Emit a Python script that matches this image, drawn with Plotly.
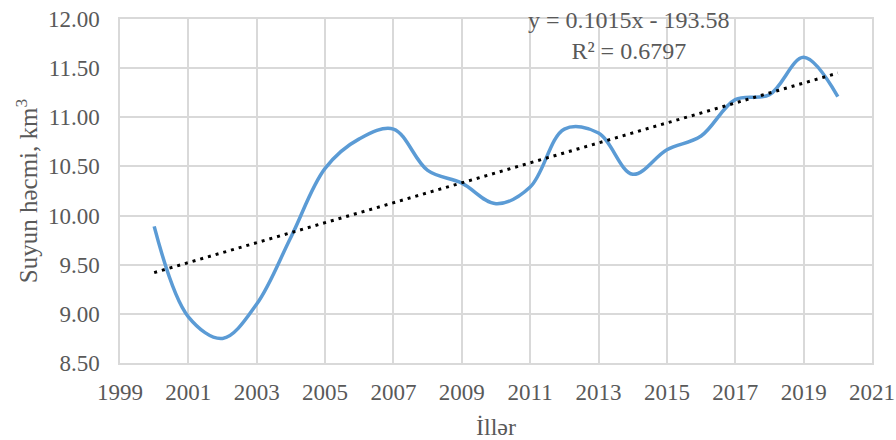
import plotly.graph_objects as go

years = list(range(2000, 2021))
volume = [9.89, 8.97, 8.75, 9.10, 9.78, 10.48, 10.78, 10.88, 10.46, 10.33,
          10.12, 10.29, 10.88, 10.84, 10.42, 10.67, 10.81, 11.18, 11.23, 11.61, 11.21]
trend_slope = 0.1015
trend_intercept = -193.58
r_squared = 0.6797

trend_x = [years[0], years[-1]]
trend_y = [trend_slope * x + trend_intercept for x in trend_x]

font_family = "Liberation Serif, Times New Roman, serif"
grey = "#595959"
grid = "#d9d9d9"

fig = go.Figure()
fig.add_trace(go.Scatter(x=years, y=volume, mode="lines",
                         line=dict(color="#5B9BD5", width=3.5, shape="spline", smoothing=1),
                         showlegend=False, hoverinfo="skip"))
fig.add_trace(go.Scatter(x=trend_x, y=trend_y, mode="lines",
                         line=dict(color="black", width=3, dash="3px,5px"),
                         showlegend=False, hoverinfo="skip"))

fig.add_annotation(x=0.677, y=0.9506, xref="paper", yref="paper", xanchor="center", yanchor="middle",
                   text=f"y = {trend_slope}x - {abs(trend_intercept)}<br>R² = {r_squared}",
                   showarrow=False, font=dict(family=font_family, size=24, color=grey),
                   align="center")

fig.update_layout(
    width=896, height=440,
    margin=dict(l=120, r=24, t=19, b=77, autoexpand=False),
    paper_bgcolor="white", plot_bgcolor="white",
    font=dict(family=font_family, size=23, color=grey),
    xaxis=dict(range=[1999, 2021], tick0=1999, dtick=2, showgrid=True, gridcolor=grid, gridwidth=1.5,
               showline=True, linecolor=grid, linewidth=1.5, mirror=True, ticks="", zeroline=False,
               automargin=False, ticklabelstandoff=8, tickfont=dict(size=23),
               title=dict(text="İllər", font=dict(family=font_family, size=24, color=grey), standoff=25)),
    yaxis=dict(range=[8.5, 12], dtick=0.5, tickformat=".2f", showgrid=True, gridcolor=grid, gridwidth=1.5,
               showline=True, linecolor=grid, linewidth=1.5, mirror=True, ticks="", zeroline=False,
               automargin=False, ticklabelstandoff=14, tickfont=dict(size=23),
               title=dict(text="Suyun həcmi, km<sup>3</sup>", font=dict(family=font_family, size=25, color=grey),
                          standoff=3)),
)

fig.write_html("out.html", config={"displayModeBar": False},
               post_script="document.body.style.margin='0';")
